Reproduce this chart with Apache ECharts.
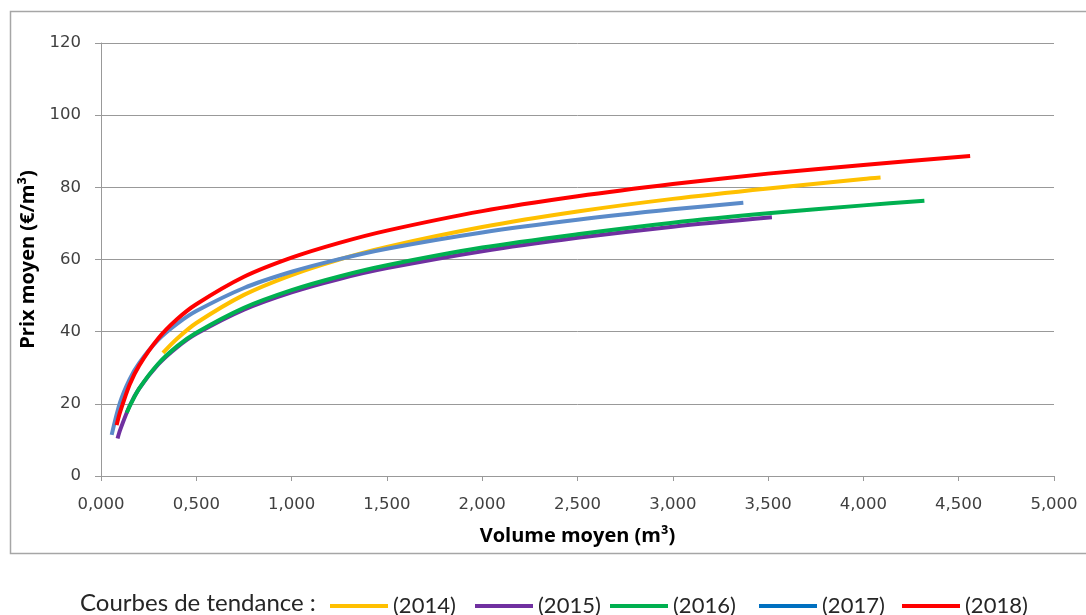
<!DOCTYPE html>
<html>
<head>
<meta charset="utf-8">
<script src="https://cdn.jsdelivr.net/npm/echarts@6/dist/echarts.min.js"></script>
<style>
	html, body { margin: 0; padding: 0; background: #fff; }
	#chart { width: 1086px; height: 615px; }
</style>
</head>
<body>
<div id="chart"></div>
<script>
// courbes de tendance (volume m3 -> prix €/m3)
var x2014 = [0.325, 0.4, 0.5, 0.75, 1.0, 1.25, 1.5, 2.0, 2.5, 3.0, 3.5, 4.0, 4.09];
var y2014 = [34.1, 38.1, 42.4, 50.2, 55.7, 60.0, 63.5, 69.0, 73.3, 76.8, 79.7, 82.3, 82.7];

var x2015 = [0.087, 0.1, 0.15, 0.2, 0.3, 0.4, 0.5, 0.75, 1.0, 1.25, 1.5, 2.0, 2.5, 3.0, 3.52];
var y2015 = [10.4, 12.7, 19.4, 24.2, 30.9, 35.7, 39.4, 46.1, 50.9, 54.6, 57.6, 62.3, 66.0, 69.1, 71.7];

var x2016 = [0.135, 0.15, 0.2, 0.3, 0.4, 0.5, 0.75, 1.0, 1.25, 1.5, 2.0, 2.5, 3.0, 3.5, 4.0, 4.32];
var y2016 = [17.5, 19.3, 24.2, 31.1, 36.0, 39.7, 46.6, 51.5, 55.3, 58.4, 63.3, 67.0, 70.2, 72.8, 75.0, 76.3];

var x2017 = [0.056, 0.1, 0.15, 0.2, 0.3, 0.4, 0.5, 0.75, 1.0, 1.25, 1.5, 2.0, 2.5, 3.0, 3.37];
var y2017 = [11.4, 20.4, 26.8, 31.3, 37.7, 42.2, 45.7, 52.1, 56.6, 60.1, 63.0, 67.5, 71.0, 73.9, 75.7];

var x2018 = [0.082, 0.1, 0.15, 0.2, 0.3, 0.4, 0.5, 0.75, 1.0, 1.25, 1.5, 2.0, 2.5, 3.0, 3.5, 4.0, 4.56];
var y2018 = [14.1, 17.7, 25.3, 30.6, 38.1, 43.5, 47.6, 55.2, 60.5, 64.6, 68.0, 73.4, 77.5, 80.9, 83.8, 86.2, 88.7];

var years = ['(2014)', '(2015)', '(2016)', '(2017)', '(2018)'];
var xs = [x2014, x2015, x2016, x2017, x2018];
var ys = [y2014, y2015, y2016, y2017, y2018];

var lineColors = ['#FFC000', '#7030A0', '#00B050', '#5B8BC9', '#FF0000'];
var legendColors = ['#FFC000', '#7030A0', '#00B050', '#0070C0', '#FF0000'];
var legendLeft = [325, 470, 605, 754, 897];

var chart = echarts.init(document.getElementById('chart'));

function pairs(x, y) {
	var out = [];
	for (var i = 0; i < x.length; i++) {
		out.push([x[i], y[i]]);
	}
	return out;
}

var series = [];
var legends = [];
for (var i = 0; i < years.length; i++) {
	series.push({
		name : years[i],
		type : 'line',
		smooth : 0.3,
		showSymbol : false,
		lineStyle : { width : 4, color : lineColors[i] },
		itemStyle : { color : lineColors[i] },
		data : pairs(xs[i], ys[i])
	});
	legends.push({
		left : legendLeft[i],
		top : 590,
		icon : 'rect',
		itemWidth : 58,
		itemHeight : 4,
		selectedMode : false,
		textStyle : { fontFamily : 'Lato', fontSize : 22, color : '#262626' },
		data : [ { name : years[i], itemStyle : { color : legendColors[i] } } ]
	});
}

chart.setOption({
	animation : false,
	backgroundColor : '#fff',
	grid : { left : 101, right : 32, top : 43, bottom : 139 },
	graphic : [ {
		type : 'rect',
		shape : { x : 10.5, y : 11.5, width : 1100, height : 542 },
		style : { fill : 'none', stroke : '#a6a6a6', lineWidth : 1.5 },
		silent : true
	}, {
		type : 'text',
		left : 80,
		top : 591,
		style : { text : 'Courbes de tendance :', fontFamily : 'Lato', fontSize : 24, fill : '#262626' }
	} ],
	legend : legends,
	xAxis : {
		type : 'value',
		min : 0,
		max : 5,
		interval : 0.5,
		name : 'Volume moyen (m³)',
		nameLocation : 'middle',
		nameGap : 50,
		nameTextStyle : { fontFamily : 'Open Sans', fontWeight : 'bold', fontSize : 20, color : '#000' },
		axisLine : { show : true, lineStyle : { color : '#999', width : 1 } },
		axisTick : { show : true, length : 5, lineStyle : { color : '#999' } },
		splitLine : { show : false },
		axisLabel : {
			margin : 20,
			fontFamily : 'DejaVu Sans',
			fontSize : 16.5,
			color : '#404040',
			formatter : function(v) { return v.toFixed(3).replace('.', ','); }
		}
	},
	yAxis : {
		type : 'value',
		min : 0,
		max : 120,
		interval : 20,
		name : 'Prix moyen (€/m³)',
		nameLocation : 'middle',
		nameGap : 60,
		nameRotate : 90,
		nameTextStyle : { fontFamily : 'Open Sans', fontWeight : 'bold', fontSize : 20, color : '#000' },
		axisLine : { show : true, lineStyle : { color : '#999', width : 1 } },
		axisTick : { show : true, length : 6, lineStyle : { color : '#999' } },
		splitLine : { show : true, lineStyle : { color : '#999', width : 1 } },
		axisLabel : {
			margin : 20,
			fontFamily : 'DejaVu Sans',
			fontSize : 16.5,
			color : '#404040'
		}
	},
	series : series
});
</script>
</body>
</html>
